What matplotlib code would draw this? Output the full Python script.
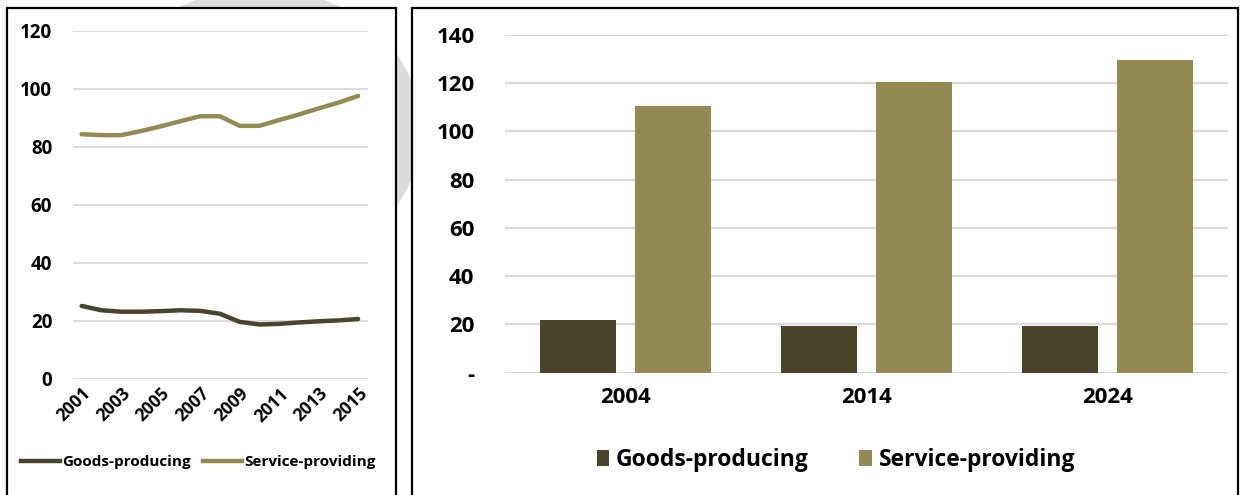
import matplotlib
matplotlib.use('Agg')
import matplotlib.pyplot as plt
from matplotlib.patches import Rectangle, Ellipse
from matplotlib.lines import Line2D
import numpy as np

# employment, millions of jobs
years = [2001, 2002, 2003, 2004, 2005, 2006, 2007, 2008,
         2009, 2010, 2011, 2012, 2013, 2014, 2015]
goods_line = [25.2, 23.7, 23.2, 23.2, 23.4, 23.7, 23.5, 22.5,
              19.7, 18.8, 19.0, 19.5, 19.9, 20.2, 20.7]
service_line = [84.4, 84.1, 84.1, 85.5, 87.1, 88.9, 90.6, 90.6,
                87.3, 87.3, 89.3, 91.2, 93.3, 95.3, 97.6]

proj_years = ['2004', '2014', '2024']
goods_bar = [21.8, 19.2, 19.3]
service_bar = [110.5, 120.3, 129.7]

GOODS = '#4a442a'
SERVICE = '#948a54'
GRID = '#d9d9d9'
W, H = 1253, 495

plt.rcParams['font.family'] = ['Open Sans', 'DejaVu Sans']
plt.rcParams['font.weight'] = 'bold'

fig = plt.figure(figsize=(W / 100, H / 100), dpi=100)


def px(x0, y0, x1, y1):
    # pixel box (top-left origin) -> figure fraction rect
    return [x0 / W, 1 - y1 / H, (x1 - x0) / W, (y1 - y0) / H]


# faint watermark strokes, mostly hidden behind the panels
bg = fig.add_axes([0, 0, 1, 1], zorder=0)
bg.set_xlim(0, W)
bg.set_ylim(H, 0)
bg.axis('off')
bg.add_patch(Ellipse((260, 130), 290, 250, fill=False, ec='#dcdcdc', lw=24))
bg.plot([230, 330], [-20, 120], color='#dcdcdc', lw=22)

# panel frames
for x0, x1 in [(7, 396), (412, 1238)]:
    fig.patches.append(Rectangle((x0 / W, -0.02), (x1 - x0) / W, 1 - 8 / H + 0.02,
                                 transform=fig.transFigure, facecolor='white',
                                 edgecolor='black', linewidth=1.6, zorder=1))

# ---- left: annual lines ----
ax1 = fig.add_axes(px(73, 31, 368, 379), zorder=2)
ax1.patch.set_alpha(0)
ax1.plot(years, goods_line, color=GOODS, lw=3.2, solid_capstyle='round')
ax1.plot(years, service_line, color=SERVICE, lw=3.2, solid_capstyle='round')
ax1.set_xlim(2000.56, 2015.5)
ax1.set_ylim(0, 120)
ax1.set_yticks(range(0, 121, 20))
ax1.set_xticks(years[::2])
ax1.set_xticklabels([str(y) for y in years[::2]], rotation=45, ha='right',
                    rotation_mode='anchor')
ax1.tick_params(axis='y', length=0, pad=15, labelsize=13.5)
ax1.tick_params(axis='x', length=0, pad=4, labelsize=12.5)
ax1.grid(axis='y', color=GRID, lw=1.3)
ax1.set_axisbelow(True)
for s in ax1.spines.values():
    s.set_visible(False)
ax1.legend(handles=[Line2D([], [], color=GOODS, lw=3.2, label='Goods-producing'),
                    Line2D([], [], color=SERVICE, lw=3.2, label='Service-providing')],
           loc='center', bbox_to_anchor=(198 / W, 1 - 462 / H),
           bbox_transform=fig.transFigure, ncol=2, frameon=False,
           fontsize=11, handlelength=2.6, handletextpad=0.1, columnspacing=0.8)

# ---- right: projection bars ----
ax2 = fig.add_axes(px(505, 34.7, 1228, 372.7), zorder=2)
ax2.patch.set_alpha(0)
x = np.arange(len(proj_years))
bw = 0.312
ax2.bar(x - 0.197, goods_bar, bw, color=GOODS, label='Goods-producing')
ax2.bar(x + 0.197, service_bar, bw, color=SERVICE, label='Service-providing')
ax2.set_xlim(-0.5, 2.5)
ax2.set_ylim(0, 140)
ax2.set_yticks(range(0, 141, 20))
ax2.set_yticklabels(['-'] + [str(v) for v in range(20, 141, 20)])
ax2.set_xticks(x)
ax2.set_xticklabels(proj_years)
ax2.tick_params(axis='y', length=0, pad=22, labelsize=16)
ax2.tick_params(axis='x', length=0, pad=10, labelsize=16)
ax2.grid(axis='y', color=GRID, lw=1.6)
ax2.set_axisbelow(True)
for s in ax2.spines.values():
    s.set_visible(False)
ax2.legend(loc='center', bbox_to_anchor=(836 / W, 1 - 460 / H),
           bbox_transform=fig.transFigure, ncol=2, frameon=False,
           fontsize=16.5, handlelength=0.55, handleheight=0.65,
           handletextpad=0.3, columnspacing=2.2)

fig.savefig('out.png', dpi=100)
